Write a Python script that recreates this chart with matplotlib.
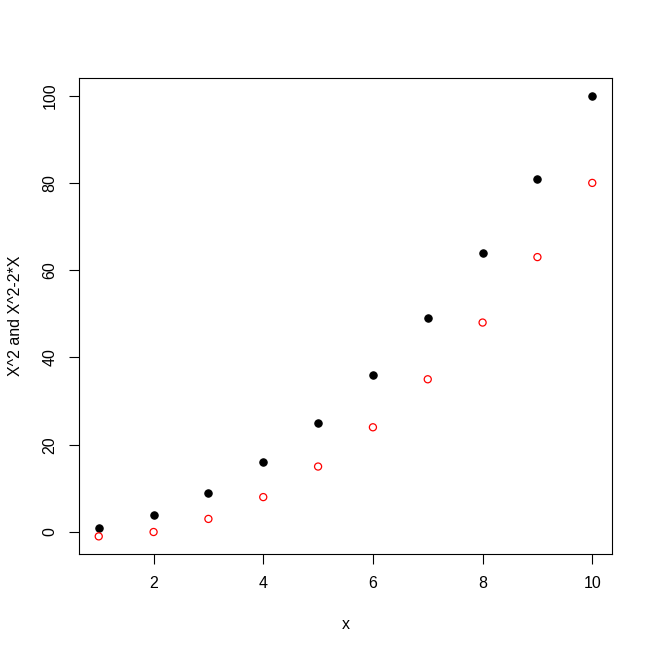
import matplotlib
matplotlib.use("Agg")
import matplotlib.pyplot as plt

x = [1, 2, 3, 4, 5, 6, 7, 8, 9, 10]
y_sq = [1, 4, 9, 16, 25, 36, 49, 64, 81, 100]
y_sq2x = [-1, 0, 3, 8, 15, 24, 35, 48, 63, 80]
xticks = [2, 4, 6, 8, 10]
yticks = [0, 20, 40, 60, 80, 100]

plt.rcParams['font.family'] = ['Liberation Sans', 'DejaVu Sans']
fig = plt.figure(figsize=(6.53, 6.53), dpi=100)
ax = fig.add_axes([79/653, 99/653, 533/653, 476/653])

ax.scatter(x, y_sq, s=28, c='black', edgecolors='black', linewidths=0.8, zorder=3)
ax.scatter(x, y_sq2x, s=26, facecolors='none', edgecolors='red', linewidths=0.9, zorder=3)

xmin, xmax = min(x), max(x)
ymin, ymax = min(min(y_sq), min(y_sq2x)), max(max(y_sq), max(y_sq2x))
dx = (xmax - xmin) * 0.04
dy = (ymax - ymin) * 0.04
ax.set_xlim(xmin - dx, xmax + dx)
ax.set_ylim(ymin - dy, ymax + dy)

ax.set_xticks(xticks)
ax.set_xticklabels([str(t) for t in xticks])
ax.set_yticks(yticks)
ax.set_yticklabels([str(t) for t in yticks], rotation=90, va='center')
ax.tick_params(direction='out', length=7.5, width=0.8, labelsize=11.5, colors='black', pad=8)
for s in ax.spines.values():
    s.set_linewidth(0.8)

ax.set_xlabel('x', fontsize=11.5, labelpad=19)
ax.set_ylabel('X^2 and X^2-2*X', fontsize=11.5, labelpad=14)

fig.savefig('out.png', dpi=100, facecolor='white')
